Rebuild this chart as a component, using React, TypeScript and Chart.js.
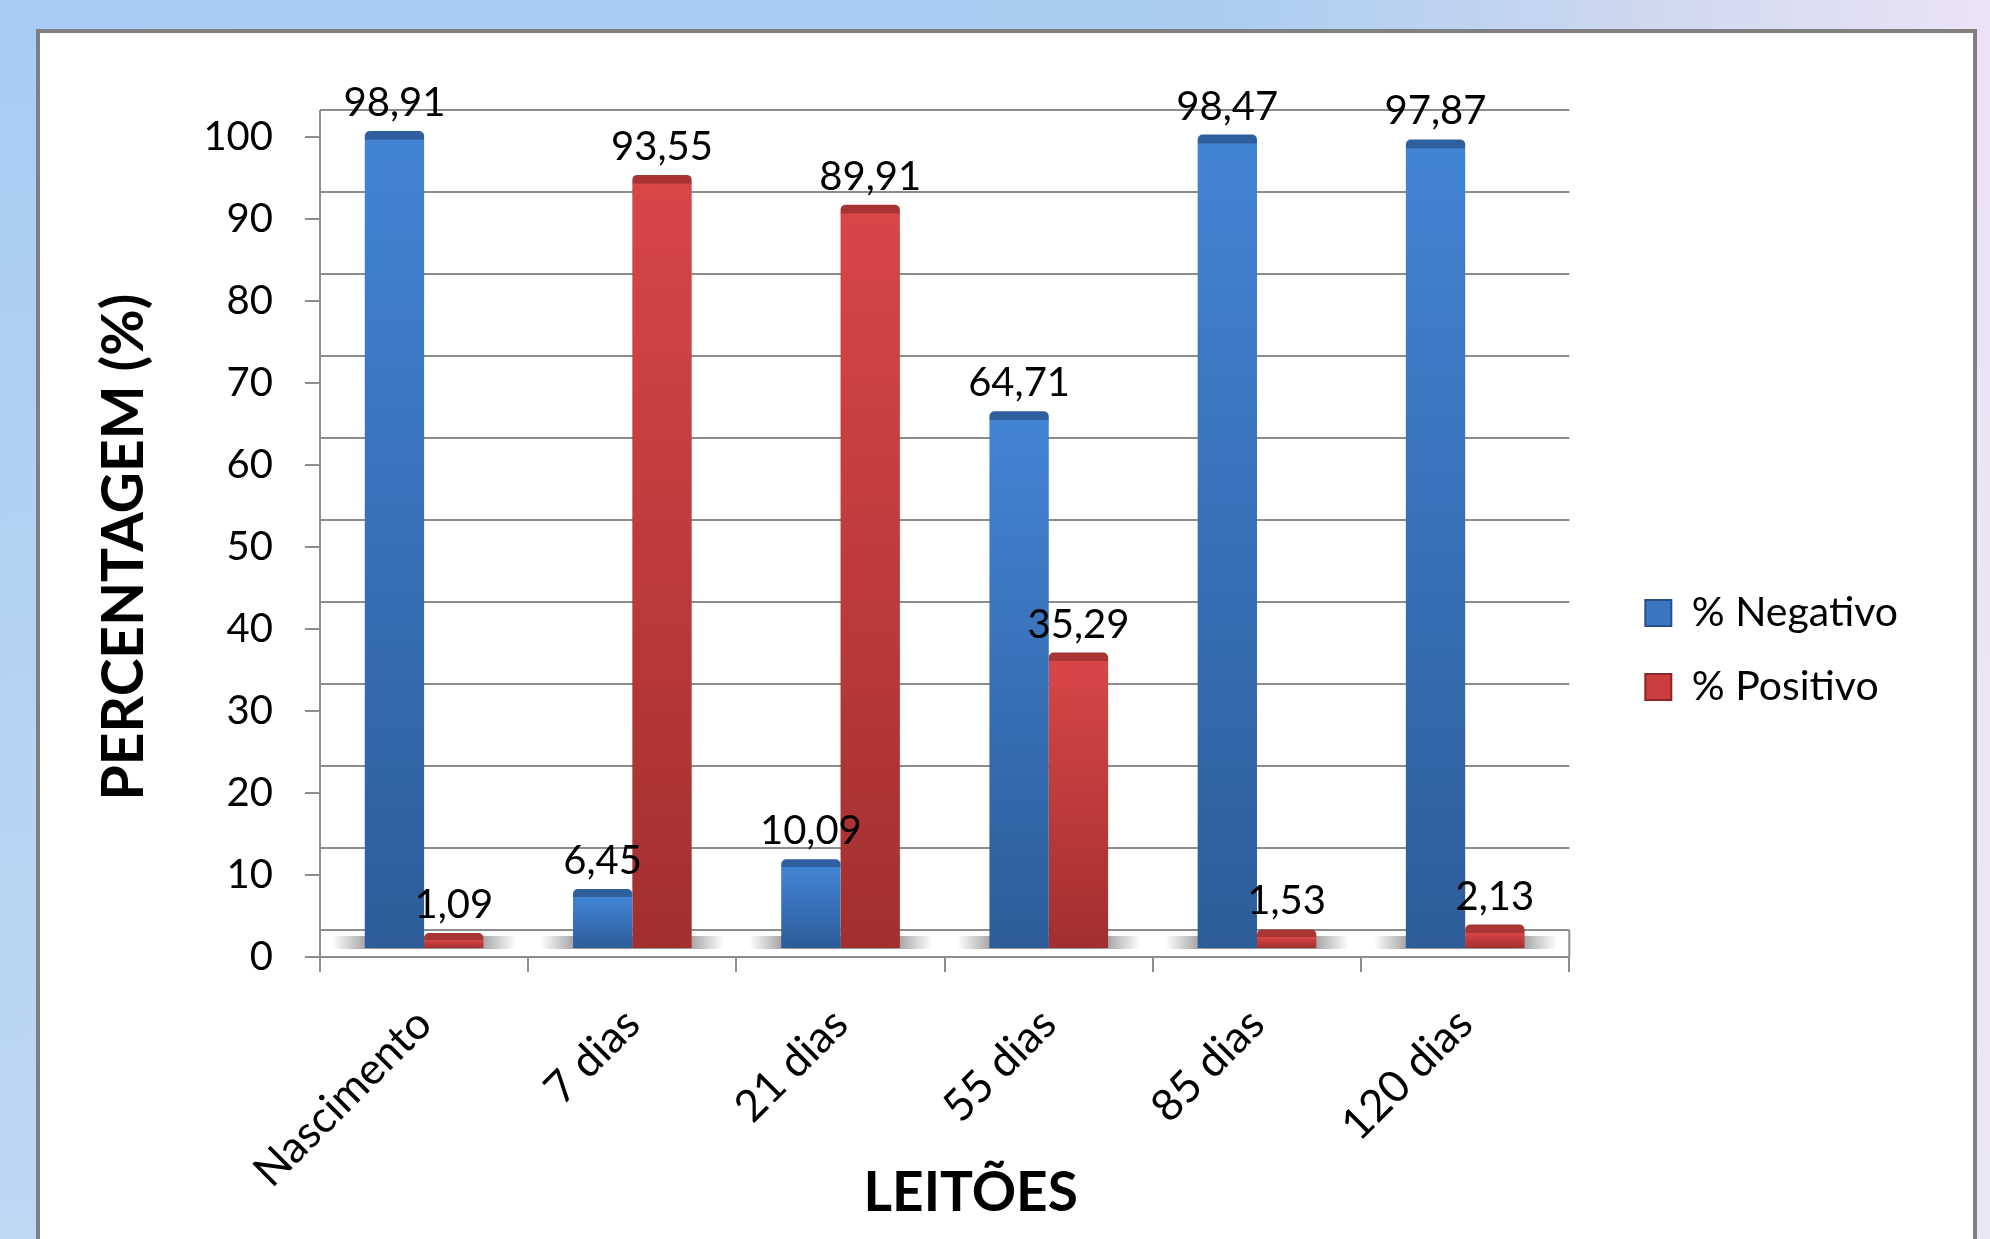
import React, { useEffect, useRef } from 'react';
import { Chart, registerables } from 'chart.js';

Chart.register(...registerables);

// ---- data ----
const categories = ['Nascimento', '7 dias', '21 dias', '55 dias', '85 dias', '120 dias'];
const negativo = [98.91, 6.45, 10.09, 64.71, 98.47, 97.87];
const positivo = [1.09, 93.55, 89.91, 35.29, 1.53, 2.13];
const seriesLabels = ['% Negativo', '% Positivo'];
const yAxisTitle = 'PERCENTAGEM (%)';
const xAxisTitle = 'LEITÕES';
const yMin = 0;
const yMax = 100;
const yStep = 10;

// ---- style ----
const FONT = 'Lato';
const GRID = '#8c8c8c';
const BLUE = { light: '#4284d4', dark: '#2d5c99', cap: '#2f5f9e', legend: '#3b76c0', edge: '#27508a' };
const RED = { light: '#d84646', dark: '#a22f2f', cap: '#a83434', legend: '#cc3d3d', edge: '#8a2626' };
const COLORS = [BLUE, RED];
const DEPTH = 27; // 3D back-wall offset (px)
const BAR_SHIFT = 1.83; // bars sit on a floor slightly behind the axis
const BAR_BASE = -0.73;
const LEG_DX = 43;
const LEG_DY = -38;
const XTITLE_DX = 26;

const fmt = (v: number) => v.toFixed(2).replace('.', ',');

function barFill(c: any, col: typeof BLUE) {
  const chart = c.chart;
  if (c.type !== 'data' || !chart.chartArea || !chart.scales.y2) return col.light;
  const y2 = chart.scales.y2;
  const v = c.raw as number;
  const top = y2.getPixelForValue(v);
  const bot = y2.getPixelForValue(BAR_BASE);
  const h = Math.max(bot - top, 1);
  const g = chart.ctx.createLinearGradient(0, top, 0, bot);
  const f = Math.min(8 / h, 0.45);
  g.addColorStop(0, col.cap);
  g.addColorStop(f, col.cap);
  g.addColorStop(Math.min(f + 0.002, 1), col.light);
  g.addColorStop(1, col.dark);
  return g;
}

const wallPlugin = {
  id: 'wall3d',
  beforeDatasetsDraw(chart: any) {
    const { ctx, chartArea: a, scales } = chart;
    const y = scales.y;
    const x = scales.x;
    const y2 = scales.y2;
    ctx.save();
    ctx.strokeStyle = GRID;
    ctx.lineWidth = 2;
    for (let v = yMin; v <= yMax; v += yStep) {
      const py = Math.round(y.getPixelForValue(v) - DEPTH);
      ctx.beginPath();
      ctx.moveTo(a.left, py);
      ctx.lineTo(a.right, py);
      ctx.stroke();
    }
    ctx.beginPath();
    ctx.moveTo(a.left, y.getPixelForValue(yMax) - DEPTH);
    ctx.lineTo(a.left, a.bottom);
    ctx.stroke();
    ctx.beginPath();
    ctx.moveTo(a.right, y.getPixelForValue(yMin) - DEPTH);
    ctx.lineTo(a.right, a.bottom);
    ctx.stroke();
    // floor shadows under the bar pairs
    const catW = (a.right - a.left) / categories.length;
    const top = y2.getPixelForValue(0) - 6;
    const bot = y2.getPixelForValue(BAR_BASE) + 1;
    categories.forEach((_, i) => {
      const cx = x.getPixelForValue(i);
      const x0 = cx - catW * 0.44;
      const x1 = cx + catW * 0.44;
      const g = ctx.createLinearGradient(x0, 0, x1, 0);
      g.addColorStop(0, 'rgba(140,140,140,0)');
      g.addColorStop(0.22, 'rgba(140,140,140,0.95)');
      g.addColorStop(0.78, 'rgba(140,140,140,0.95)');
      g.addColorStop(1, 'rgba(140,140,140,0)');
      ctx.fillStyle = g;
      ctx.fillRect(x0, top, x1 - x0, bot - top);
    });
    ctx.restore();
  },
};

const valueLabels = {
  id: 'valueLabels',
  afterDatasetsDraw(chart: any) {
    const { ctx } = chart;
    ctx.save();
    ctx.font = `40px ${FONT}`;
    ctx.fillStyle = '#000';
    ctx.textAlign = 'center';
    ctx.textBaseline = 'alphabetic';
    chart.data.datasets.forEach((ds: any, di: number) => {
      const meta = chart.getDatasetMeta(di);
      meta.data.forEach((el: any, i: number) => {
        ctx.fillText(fmt(ds.data[i]), el.x, el.y - 15);
      });
    });
    ctx.restore();
  },
};

const xTitle = {
  id: 'xTitle',
  afterDraw(chart: any) {
    const { ctx, chartArea: a, scales } = chart;
    ctx.save();
    ctx.font = `bold 55px ${FONT}`;
    ctx.fillStyle = '#000';
    ctx.textAlign = 'center';
    ctx.textBaseline = 'middle';
    ctx.fillText(xAxisTitle, (a.left + a.right) / 2 + XTITLE_DX, scales.x.bottom - 46);
    ctx.restore();
  },
};

const legendShift = {
  id: 'legendShift',
  afterLayout(chart: any) {
    const lg = chart.legend;
    if (!lg) return;
    lg.left += LEG_DX;
    lg.right += LEG_DX;
    lg.top += LEG_DY;
    lg.bottom += LEG_DY;
  },
};

export default function App() {
  const ref = useRef<HTMLCanvasElement>(null);

  useEffect(() => {
    if (!ref.current) return;
    Chart.defaults.font.family = FONT;
    Chart.defaults.color = '#000';
    const chart = new Chart(ref.current, {
      type: 'bar',
      data: {
        labels: categories,
        datasets: [negativo, positivo].map((d, i) => ({
          label: seriesLabels[i],
          data: d,
          yAxisID: 'y2',
          base: BAR_BASE,
          clip: false as any,
          backgroundColor: (c: any) => barFill(c, COLORS[i]),
          borderColor: COLORS[i].edge,
          borderWidth: 0,
          borderRadius: { topLeft: 5, topRight: 5, bottomLeft: 0, bottomRight: 0 },
          borderSkipped: 'start' as const,
          categoryPercentage: 0.57,
          barPercentage: 1.0,
        })),
      },
      options: {
        responsive: false,
        devicePixelRatio: 1,
        animation: false,
        layout: { padding: { left: 60, top: 137, right: 125, bottom: 0 } },
        plugins: {
          tooltip: { enabled: false },
          legend: {
            position: 'right',
            labels: {
              font: { size: 41, family: FONT },
              color: '#000',
              boxWidth: 26,
              boxHeight: 26,
              padding: 33,
              generateLabels: () =>
                seriesLabels.map((t, i) => ({
                  text: t,
                  fillStyle: COLORS[i].legend,
                  strokeStyle: COLORS[i].edge,
                  lineWidth: 2,
                  hidden: false,
                  datasetIndex: i,
                  fontColor: '#000',
                })),
            },
          },
        },
        scales: {
          x: {
            grid: { display: true, drawOnChartArea: false, offset: true, tickLength: 15, color: GRID, lineWidth: 2 },
            border: { display: true, color: GRID, width: 2 },
            ticks: { font: { size: 44, family: FONT }, color: '#000', minRotation: 45, maxRotation: 45, padding: 26 },
            title: { display: false, text: xAxisTitle },
            afterFit: (s: any) => { s.height = 282; },
          },
          y: {
            min: yMin,
            max: yMax,
            ticks: { stepSize: yStep, font: { size: 40, family: FONT }, color: '#000', padding: 32 },
            grid: { display: true, drawOnChartArea: false, tickLength: 15, color: GRID, lineWidth: 2 },
            border: { display: true, color: GRID, width: 2 },
            title: { display: true, text: yAxisTitle, font: { size: 57, weight: 'bold', family: FONT }, color: '#000', padding: { top: 30, bottom: 0 } },
            afterFit: (s: any) => { s.width = 260; },
          },
          y2: {
            display: false,
            position: 'left',
            min: yMin - BAR_SHIFT,
            max: yMax - BAR_SHIFT,
          },
        },
      },
      plugins: [wallPlugin, valueLabels, xTitle, legendShift],
    });
    return () => chart.destroy();
  }, []);

  return (
    <div
      style={{
        position: 'fixed',
        left: 0,
        top: 0,
        width: 1990,
        height: 1239,
        overflow: 'hidden',
        background:
          'linear-gradient(to bottom, rgba(255,255,255,0) 0%, rgba(235,238,245,0.35) 100%), linear-gradient(to right, #a7ccf3 0%, #abcdf2 62%, #cdd8ef 82%, #ece3f6 100%)',
      }}
    >
      <div
        style={{
          position: 'absolute',
          left: 36,
          top: 29,
          width: 1933,
          height: 1400,
          background: '#fff',
          border: '4px solid #808080',
        }}
      />
      <canvas
        ref={ref}
        width={1990}
        height={1239}
        style={{ position: 'absolute', left: 0, top: 0, width: 1990, height: 1239 }}
      />
    </div>
  );
}
